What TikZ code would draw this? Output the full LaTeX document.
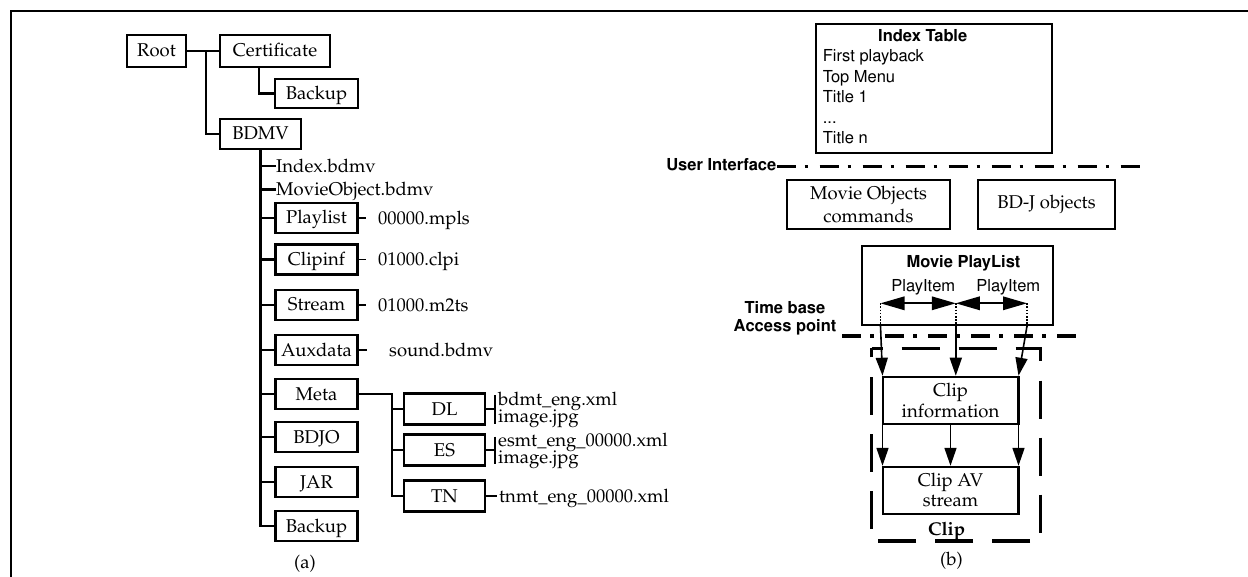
\documentclass[tikz,border=0pt]{standalone}
\usepackage[T1]{fontenc}
\usepackage{mathpazo}
\usepackage[scaled=1]{helvet}
\usetikzlibrary{arrows.meta}

\newcommand\figrm{\fontsize{18.5}{18.5}\selectfont\rmfamily}
\newcommand\figsf{\fontsize{16.5}{18}\selectfont\sffamily}
\newcommand\figsfb{\fontsize{16.5}{18}\selectfont\sffamily\bfseries}

\tikzset{
  fbox/.style={draw, line width=2.6pt, minimum width=82pt, minimum height=30pt,
    inner sep=0pt, font=\figrm, text height=14pt, text depth=2pt},
  tline/.style={line width=2.6pt},
  thinline/.style={line width=1.3pt},
  ftext/.style={inner sep=0pt, font=\figrm, text height=12.5pt, text depth=0pt, anchor=west},
  fbase/.style={inner sep=0pt, font=\figrm, anchor=base west},
  rbox/.style={draw, line width=2.4pt, inner sep=0pt},
  sftext/.style={inner sep=0pt, font=\figsf, anchor=base west},
  dashdot/.style={line width=3.5pt, dash pattern=on 19pt off 9pt on 3.5pt off 11.5pt},
  arr/.style={line width=1.6pt, -{Triangle[length=18pt,width=12pt]}},
  darr/.style={line width=1.6pt, {Triangle[length=24pt,width=13.5pt]}-{Triangle[length=24pt,width=13.5pt]}},
  dotline/.style={line width=1.6pt, dash pattern=on 1.6pt off 1.6pt}
}

\begin{document}
\begin{tikzpicture}[x=1pt,y=-1pt]
\useasboundingbox (0,0) rectangle (1248,577);

% page frame
\draw[line width=2pt] (1248,11) -- (11,11) -- (11,577);

% ---------------- (a) directory tree ----------------
\node[fbox, minimum width=59pt, minimum height=32pt] (root) at (156.5,51) {Root};
\node[fbox, minimum width=110pt, minimum height=32pt] (cert) at (275,51) {Certificate};
\node[fbox, minimum width=83pt, minimum height=29pt] (certbak) at (316.5,93.5) {Backup};
\node[fbox, minimum width=81pt] (bdmv) at (260.5,134) {BDMV};

\coordinate (rj) at (206,51);
\draw[tline] (root.east) -- (cert.west);
\draw[tline] (rj) |- (bdmv.west);
\draw[tline] ([xshift=-16pt]cert.south) |- (certbak.west);

\node[ftext] (idx) at (276,166) {Index.bdmv};
\node[ftext] (mobj) at (276,189.5) {MovieObject.bdmv};

\node[fbox] (playlist) at (316.5,218) {Playlist};
\node[fbox] (clipinf) at (316.5,259.5) {Clipinf};
\node[fbox] (stream) at (316.5,305) {Stream};
\node[fbox] (auxdata) at (316.5,350) {Auxdata};
\node[fbox] (meta) at (316.5,394) {Meta};
\node[fbox] (bdjo) at (316.5,437) {BDJO};
\node[fbox] (jar) at (316.5,482) {JAR};
\node[fbox] (bak) at (316.5,526) {Backup};

\draw[tline] (bdmv.south) |- (bak.west);
\foreach \n in {idx,mobj,playlist,clipinf,stream,auxdata,meta,bdjo,jar}
  \draw[tline] (bdmv.south |- \n.west) -- (\n.west);

% files beside the folders
\node[ftext] (mpls) at (378,218) {00000.mpls};
\node[ftext] (clpi) at (378,259.5) {01000.clpi};
\node[ftext] (m2ts) at (378,305) {01000.m2ts};
\node[ftext] (sound) at (389,350) {sound.bdmv};
\draw[thinline, shorten >=12pt] (playlist.east) -- (mpls.west);
\draw[thinline, shorten >=12pt] (clipinf.east) -- (clpi.west);
\draw[thinline, shorten >=12pt] (stream.east) -- (m2ts.west);
\draw[thinline, shorten >=22pt] (auxdata.east) -- (sound.west);

% Meta sub folders
\node[fbox, minimum width=81pt, minimum height=31pt] (dl) at (444.5,409) {DL};
\node[fbox, minimum width=81pt, minimum height=31pt] (es) at (444.5,450) {ES};
\node[fbox, minimum width=81pt, minimum height=31pt] (tn) at (444.5,496) {TN};
\coordinate (mj) at (392,394);
\draw[tline] (meta.east) -- (mj) |- (tn.west);
\draw[tline] (mj |- dl.west) -- (dl.west);
\draw[tline] (mj |- es.west) -- (es.west);

\node[fbase] (dlf1) at (498,405) {bdmt\_eng.xml};
\node[fbase] (dlf2) at (498,422.3) {image.jpg};
\node[fbase] (esf1) at (498,446.3) {esmt\_eng\_00000.xml};
\node[fbase] (esf2) at (498,463.6) {image.jpg};
\node[fbase] (tnf) at (499,502) {tnmt\_eng\_00000.xml};

\coordinate (dlt) at (495,395);
\coordinate (dlb) at (495,424);
\coordinate (est) at (495,436.5);
\coordinate (esb) at (495,463.5);
\draw[thinline] (dlt) -- (dlb);
\draw[thinline] (dl.east) -- (dlt |- dl.east);
\draw[thinline] (est) -- (esb);
\draw[thinline] (es.east) -- (est |- es.east);
\draw[thinline, shorten >=2pt] (tn.east) -- (tnf.west |- tn.east);

\node[font=\figrm, inner sep=0pt] (capa) at (305,564) {(a)};

% ---------------- (b) BD-ROM data model ----------------
\node[rbox, minimum width=236pt, minimum height=129pt] (index) at (934,88.5) {};
\node[inner sep=0pt, font=\figsfb, anchor=base] (indext) at (922.7,41.7) {Index Table};
\node[sftext] (it1) at (822.7,62) {First playback};
\node[sftext] (it2) at (822.7,82.5) {Top Menu};
\node[sftext] (it3) at (822.7,103) {Title 1};
\node[sftext] (it4) at (822.7,123.5) {...};
\node[sftext] (it5) at (822.7,144) {Title n};

\node[inner sep=0pt, font=\figsfb, anchor=base east] (ui) at (776.5,171) {User Interface};
\coordinate (uiend) at (1143,166.7);
\draw[dashdot] (ui.east |- uiend) -- (uiend);

\node[rbox, minimum width=163pt, minimum height=49pt, align=center,
  font={\fontsize{18.5}{23.4}\selectfont\rmfamily}] (mo) at (868.5,204.5)
  {Movie Objects\\commands};
\node[rbox, minimum width=137pt, minimum height=49pt, font=\figrm] (bdj) at (1046.5,204.5) {BD-J objects};

\node[rbox, minimum width=191pt, minimum height=79pt] (mpl) at (957.5,285.5) {};
\node[inner sep=0pt, font=\figsfb, anchor=base] (mplt) at (963.5,268) {Movie PlayList};
\node[inner sep=0pt, font=\figsf, anchor=base] (pi1) at (923.3,291.7) {PlayItem};
\node[inner sep=0pt, font=\figsf, anchor=base] (pi2) at (1008.3,291.7) {PlayItem};

\coordinate (pa) at (880.5,303.3);
\coordinate (pb) at (955.8,303.3);
\coordinate (pc) at (1027,303.3);
\draw[darr] (pa) -- (pb);
\draw[darr] (pb) -- (pc);

% time base line and its label
\node[inner sep=0pt, font={\fontsize{16.5}{18}\selectfont\sffamily\bfseries}, align=center,
  anchor=base] (tb) at (785,332) {Time base\\Access point};
\coordinate (tbs) at (842,336);
\coordinate (tbe) at (1078,336);
\draw[dashdot] (tbs) -- (tbe);

% clip
\node[rbox, minimum width=135.6pt, minimum height=47.3pt, align=center,
  font={\fontsize{18.5}{21.3}\selectfont\rmfamily}] (cinfo) at (950.5,400.6)
  {Clip\\information};
\node[rbox, minimum width=135.6pt, minimum height=47pt, align=center,
  font={\fontsize{18.5}{20}\selectfont\rmfamily}] (cav) at (950.5,490.5)
  {Clip AV\\stream};
\node[inner sep=0pt, font={\fontsize{18.5}{18.5}\selectfont\rmfamily\bfseries}, anchor=base] (clipt) at (946.7,535) {Clip};

\draw[line width=3.8pt, dash pattern=on 38pt off 19pt, dash phase=27pt]
  (871.5,348.5) -- (1040.5,348.5) -- (1040.5,541) -- (871.5,541) -- cycle;

% play items pointing into the clip
\coordinate (pad) at (880.5,326);
\coordinate (pbd) at (955.8,326);
\coordinate (pcd) at (1027,326);
\draw[dotline] (pa) -- (pad);
\draw[dotline] (pb) -- (pbd);
\draw[dotline] (pc) -- (pcd);
\draw[arr] (pad) -- ([xshift=1pt]cinfo.north west);
\draw[arr] (pbd) -- (pbd |- cinfo.north);
\draw[arr] (pcd) -- ([xshift=-1pt]cinfo.north east);

\draw[arr] ([xshift=1pt]cinfo.south west) -- ([xshift=1pt]cav.north west);
\draw[arr] (cinfo.south) -- (cav.north);
\draw[arr] ([xshift=-1pt]cinfo.south east) -- ([xshift=-1pt]cav.north east);

\node[font=\figrm, inner sep=0pt] (capb) at (951.5,561) {(b)};
\end{tikzpicture}
\end{document}
